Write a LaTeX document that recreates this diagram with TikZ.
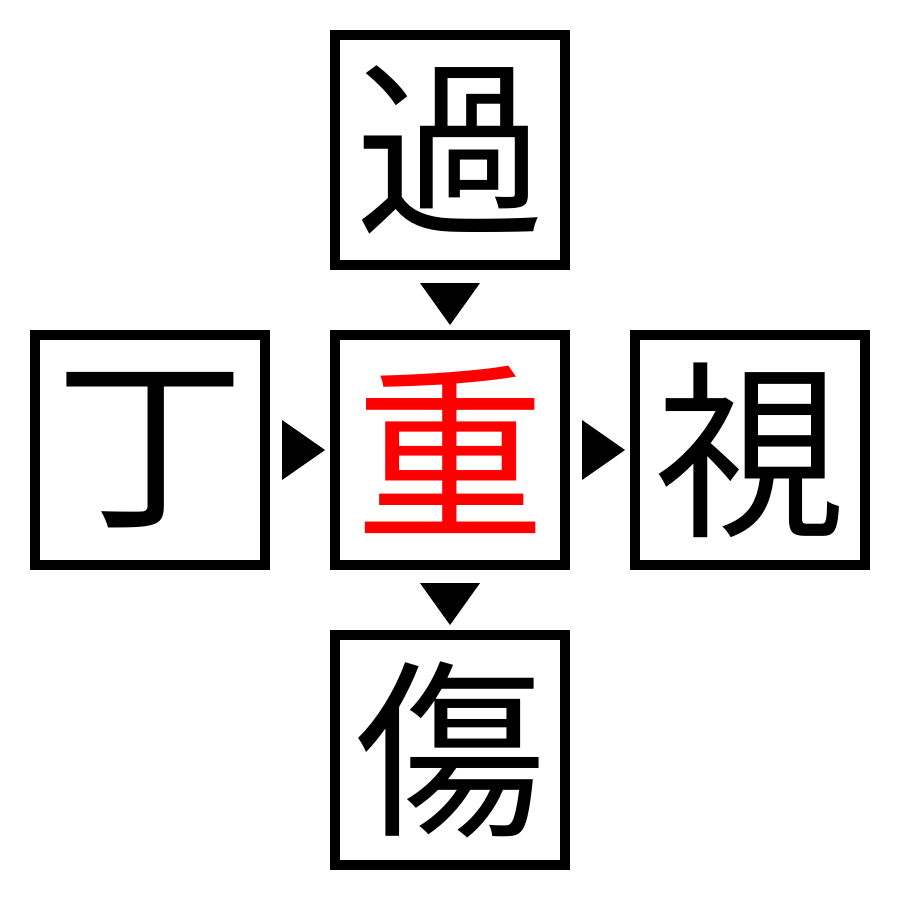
\documentclass[tikz,border=0pt]{standalone}
\usepackage{fontspec}
\usetikzlibrary{calc}
\newfontfamily\cjk{Noto Sans CJK JP}
\definecolor{kred}{RGB}{255,0,0}
\tikzset{
  kbox/.style={draw=black, line width=10pt, minimum width=230pt, minimum height=230pt, inner sep=0pt, font=\cjk\fontsize{190}{190}\selectfont, anchor=center},
  tri/.style={fill=black, draw=none}
}
\begin{document}
\begin{tikzpicture}[x=1pt,y=-1pt]
\useasboundingbox (0,0) rectangle (900,900);
\node[kbox] (top) at (450,150) {過};
\node[kbox] (left) at (150,450) {丁};
\node[kbox, text=kred] (mid) at (450,450) {重};
\node[kbox] (right) at (750,450) {視};
\node[kbox] (bot) at (450,750) {傷};
% down markers
\fill[tri] ($(top.south)+(-30,13)$) -- ($(top.south)+(30,13)$) -- ($(top.south)+(0,55)$) -- cycle;
\fill[tri] ($(mid.south)+(-30,13)$) -- ($(mid.south)+(30,13)$) -- ($(mid.south)+(0,55)$) -- cycle;
% right markers
\fill[tri] ($(left.east)+(12,-30)$) -- ($(left.east)+(12,30)$) -- ($(left.east)+(55,0)$) -- cycle;
\fill[tri] ($(mid.east)+(12,-30)$) -- ($(mid.east)+(12,30)$) -- ($(mid.east)+(55,0)$) -- cycle;
\end{tikzpicture}
\end{document}
